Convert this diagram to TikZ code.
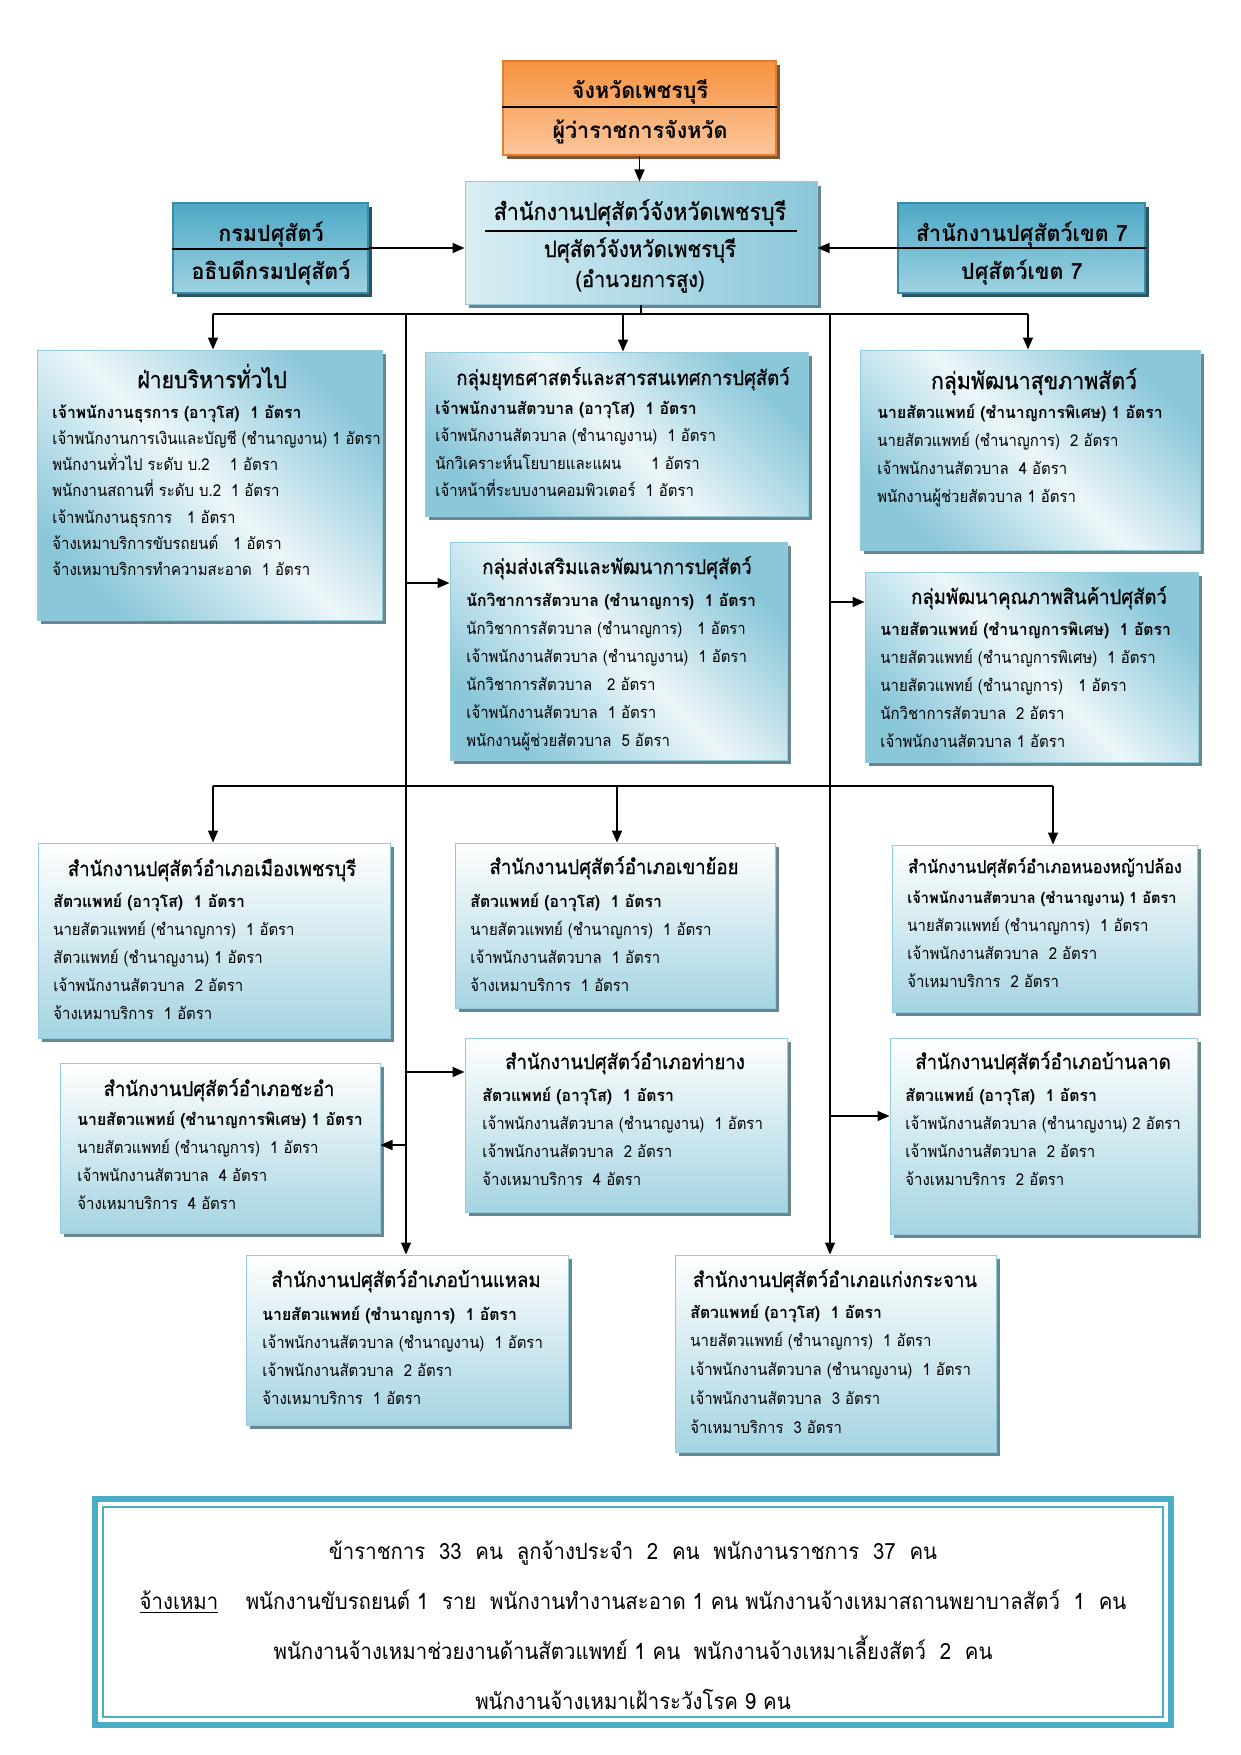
\documentclass[tikz,border=0pt]{standalone}
\usepackage{fontspec}
\setmainfont{Loma}[Script=Thai,UprightFeatures={FakeStretch=0.91},BoldFeatures={FakeStretch=0.96}]
\newfontfamily\ttlf{Loma}[Script=Thai,FakeStretch=0.91,FakeBold=0.7]
\usetikzlibrary{arrows.meta,shadows,fit}
\definecolor{orA}{RGB}{246,146,64}
\definecolor{orB}{RGB}{251,198,156}
\definecolor{orD}{RGB}{226,124,48}
\definecolor{orS}{RGB}{130,85,50}
\definecolor{tlA}{RGB}{78,168,198}
\definecolor{tlB}{RGB}{158,210,225}
\definecolor{tlD}{RGB}{56,140,170}
\definecolor{tlS}{RGB}{40,85,100}
\definecolor{bluA}{RGB}{138,199,217}
\definecolor{bluL}{RGB}{236,246,249}
\definecolor{cenL}{RGB}{216,238,244}
\definecolor{offB}{RGB}{165,212,226}
\definecolor{bdr}{RGB}{145,203,220}
\definecolor{shd}{RGB}{105,135,145}
\definecolor{sumC}{RGB}{75,172,198}
\newcommand\lns[2]{{\fontsize{8.2pt}{#1}\selectfont\begin{tabular}[t]{@{}l@{}}#2\end{tabular}}}
\tikzset{
 ln/.style={line width=0.75pt},
 arr/.style={line width=0.75pt,-{Triangle[length=6pt,width=5pt]}},
 bx/.style={draw=bdr,line width=0.5pt,inner sep=0pt,general shadow={fill=shd,shadow xshift=2pt,shadow yshift=-2pt}},
 grp/.style={bx,top color=bluA,bottom color=bluA,middle color=bluL,shading angle=-45},
 off/.style={bx,top color=white,bottom color=offB},
 ttl/.style={anchor=base,inner sep=0pt,font=\ttlf\fontsize{10.2pt}{12pt}\selectfont},
 ttlL/.style={anchor=base,inner sep=0pt,font=\ttlf\fontsize{11.7pt}{13pt}\selectfont},
 ottl/.style={anchor=base,inner sep=0pt,font=\ttlf\fontsize{10.2pt}{12pt}\selectfont},
 txt/.style={anchor=base west,inner sep=0pt},
 tl/.style={draw=tlD,line width=0.6pt,inner sep=0pt,top color=tlA,bottom color=tlB,general shadow={fill=tlS,shadow xshift=2pt,shadow yshift=-2pt}},
 bt/.style={anchor=base,inner sep=0pt,font=\fontsize{11.2pt}{13pt}\selectfont\bfseries},
}
\begin{document}
\begin{tikzpicture}[x=0.5pt,y=-0.5pt]
\useasboundingbox (0,0) rectangle (1241,1755);
\fill[white] (0,0) rectangle (1241,1755);

% top boxes
\node[fit={(503,61)(776,155)},draw=orD,line width=0.6pt,inner sep=0pt,top color=orA,bottom color=orB,general shadow={fill=orS,shadow xshift=2pt,shadow yshift=-2pt}] (gov) {};
\draw[ln] (gov.west |- 0,107) -- (gov.east |- 0,107);
\node[bt] (govA) at (640,99) {จังหวัดเพชรบุรี};
\node[bt] (govB) at (640,139) {ผู้ว่าราชการจังหวัด};

\node[fit={(465,182)(817,304)},bx,left color=cenL,right color=bluA] (ctr) {};
\node[anchor=base,inner sep=0pt,font=\ttlf\fontsize{11.8pt}{14pt}\selectfont] (ctrA) at (640,220) {สำนักงานปศุสัตว์จังหวัดเพชรบุรี};
\draw[ln] (485,231) -- (797,231);
\node[anchor=base,inner sep=0pt,font=\ttlf\fontsize{11.2pt}{13pt}\selectfont] (ctrB) at (640,257) {ปศุสัตว์จังหวัดเพชรบุรี};
\node[anchor=base,inner sep=0pt,font=\ttlf\fontsize{11pt}{13pt}\selectfont] (ctrC) at (640,287) {(อำนวยการสูง)};

\node[fit={(173,203)(368,293)},tl] (dep) {};
\draw[ln] (dep.west |- 0,249) -- (dep.east |- 0,249);
\node[bt] (depA) at (271,242) {กรมปศุสัตว์};
\node[bt] (depB) at (271,279) {อธิบดีกรมปศุสัตว์};

\node[fit={(898,203)(1145,293)},tl] (reg) {};
\draw[ln] (reg.west |- 0,248) -- (reg.east |- 0,248);
\node[bt] (regA) at (1022,242) {สำนักงานปศุสัตว์เขต 7};
\node[bt] (regB) at (1022,279) {ปศุสัตว์เขต 7};

\draw[arr] (gov.south) -- (gov.south |- ctr.north);
\draw[arr] (dep.east) -- (dep.east -| ctr.west);
\draw[arr] (reg.west) -- (reg.west -| ctr.east);

% group boxes
\node[fit={(37,350)(382,620)},grp] (g1) {};
\node[ttlL] (g1t) at (212,388) {ฝ่ายบริหารทั่วไป};
\node[txt] (g1b) at (52,418) {\lns{13.15pt}{\textbf{เจ้าพนักงานธุรการ (อาวุโส)~~1 อัตรา}\\
เจ้าพนักงานการเงินและบัญชี (ชำนาญงาน) 1 อัตรา\\
พนักงานทั่วไป ระดับ บ.2~~~~1 อัตรา\\
พนักงานสถานที่ ระดับ บ.2~~1 อัตรา\\
เจ้าพนักงานธุรการ~~~1 อัตรา\\
จ้างเหมาบริการขับรถยนต์~~~1 อัตรา\\
จ้างเหมาบริการทำความสะอาด~~1 อัตรา}};

\node[fit={(425,352)(808,516)},grp] (g2) {};
\node[ttl] (g2t) at (623,385) {กลุ่มยุทธศาสตร์และสารสนเทศการปศุสัตว์};
\node[txt] (g2b) at (435,414) {\lns{13.8pt}{\textbf{เจ้าพนักงานสัตวบาล (อาวุโส)~~1 อัตรา}\\
เจ้าพนักงานสัตวบาล (ชำนาญงาน)~~1 อัตรา\\
นักวิเคราะห์นโยบายและแผน~~~~~~1 อัตรา\\
เจ้าหน้าที่ระบบงานคอมพิวเตอร์~~1 อัตรา}};

\node[fit={(860,350)(1200,550)},grp] (g3) {};
\node[ttlL] (g3t) at (1034,389) {กลุ่มพัฒนาสุขภาพสัตว์};
\node[txt] (g3b) at (877,418) {\lns{14pt}{\textbf{นายสัตวแพทย์ (ชำนาญการพิเศษ) 1 อัตรา}\\
นายสัตวแพทย์ (ชำนาญการ)~~2 อัตรา\\
เจ้าพนักงานสัตวบาล~~4 อัตรา\\
พนักงานผู้ช่วยสัตวบาล 1 อัตรา}};

\node[fit={(450,542)(787,760)},grp] (g4) {};
\node[ttl] (g4t) at (617,574) {กลุ่มส่งเสริมและพัฒนาการปศุสัตว์};
\node[txt] (g4b) at (466,606) {\lns{14pt}{\textbf{นักวิชาการสัตวบาล (ชำนาญการ)~~1 อัตรา}\\
นักวิชาการสัตวบาล (ชำนาญการ)~~~1 อัตรา\\
เจ้าพนักงานสัตวบาล (ชำนาญงาน)~~1 อัตรา\\
นักวิชาการสัตวบาล~~~2 อัตรา\\
เจ้าพนักงานสัตวบาล~~1 อัตรา\\
พนักงานผู้ช่วยสัตวบาล~~5 อัตรา}};

\node[fit={(865,572)(1198,762)},grp] (g5) {};
\node[ttl] (g5t) at (1039,604) {กลุ่มพัฒนาคุณภาพสินค้าปศุสัตว์};
\node[txt] (g5b) at (880,635) {\lns{14pt}{\textbf{นายสัตวแพทย์ (ชำนาญการพิเศษ)~~1 อัตรา}\\
นายสัตวแพทย์ (ชำนาญการพิเศษ)~~1 อัตรา\\
นายสัตวแพทย์ (ชำนาญการ)~~~1 อัตรา\\
นักวิชาการสัตวบาล~~2 อัตรา\\
เจ้าพนักงานสัตวบาล 1 อัตรา}};

% office boxes
\node[fit={(38,843)(390,1038)},off] (o6) {};
\node[ottl] (o6t) at (212,876) {สำนักงานปศุสัตว์อำเภอเมืองเพชรบุรี};
\node[txt] (o6b) at (53,907) {\lns{14pt}{\textbf{สัตวแพทย์ (อาวุโส)~~1 อัตรา}\\
นายสัตวแพทย์ (ชำนาญการ)~~1 อัตรา\\
สัตวแพทย์ (ชำนาญงาน) 1 อัตรา\\
เจ้าพนักงานสัตวบาล~~2 อัตรา\\
จ้างเหมาบริการ~~1 อัตรา}};

\node[fit={(455,843)(775,1008)},off] (o7) {};
\node[ottl] (o7t) at (614,874) {สำนักงานปศุสัตว์อำเภอเขาย้อย};
\node[txt] (o7b) at (470,907) {\lns{14pt}{\textbf{สัตวแพทย์ (อาวุโส)~~1 อัตรา}\\
นายสัตวแพทย์ (ชำนาญการ)~~1 อัตรา\\
เจ้าพนักงานสัตวบาล~~1 อัตรา\\
จ้างเหมาบริการ~~1 อัตรา}};

\node[fit={(892,845)(1197,1012)},off] (o8) {};
\node[anchor=base,inner sep=0pt,font=\ttlf\fontsize{8.9pt}{11pt}\selectfont] (o8t) at (1045,873) {สำนักงานปศุสัตว์อำเภอหนองหญ้าปล้อง};
\node[txt] (o8b) at (907,903) {\lns{14.1pt}{{\fontsize{7.6pt}{14.1pt}\selectfont\textbf{เจ้าพนักงานสัตวบาล (ชำนาญงาน) 1 อัตรา}}\\
นายสัตวแพทย์ (ชำนาญการ)~~1 อัตรา\\
เจ้าพนักงานสัตวบาล~~2 อัตรา\\
จ้าเหมาบริการ~~2 อัตรา}};

\node[fit={(60,1063)(380,1233)},off] (o9) {};
\node[ottl] (o9t) at (219,1096) {สำนักงานปศุสัตว์อำเภอชะอำ};
\node[txt] (o9b) at (77,1125) {\lns{14.1pt}{\textbf{นายสัตวแพทย์ (ชำนาญการพิเศษ) 1 อัตรา}\\
นายสัตวแพทย์ (ชำนาญการ)~~1 อัตรา\\
เจ้าพนักงานสัตวบาล~~4 อัตรา\\
จ้างเหมาบริการ~~4 อัตรา}};

\node[fit={(465,1038)(787,1212)},off] (o10) {};
\node[ottl] (o10t) at (625,1069) {สำนักงานปศุสัตว์อำเภอท่ายาง};
\node[txt] (o10b) at (482,1101) {\lns{14pt}{\textbf{สัตวแพทย์ (อาวุโส)~~1 อัตรา}\\
เจ้าพนักงานสัตวบาล (ชำนาญงาน)~~1 อัตรา\\
เจ้าพนักงานสัตวบาล~~2 อัตรา\\
จ้างเหมาบริการ~~4 อัตรา}};

\node[fit={(890,1038)(1197,1234)},off] (o11) {};
\node[ottl] (o11t) at (1043,1069) {สำนักงานปศุสัตว์อำเภอบ้านลาด};
\node[txt] (o11b) at (905,1101) {\lns{14pt}{\textbf{สัตวแพทย์ (อาวุโส)~~1 อัตรา}\\
เจ้าพนักงานสัตวบาล (ชำนาญงาน) 2 อัตรา\\
เจ้าพนักงานสัตวบาล~~2 อัตรา\\
จ้างเหมาบริการ~~2 อัตรา}};

\node[fit={(246,1255)(568,1425)},off] (o12) {};
\node[ottl] (o12t) at (406,1287) {สำนักงานปศุสัตว์อำเภอบ้านแหลม};
\node[txt] (o12b) at (262,1320) {\lns{14pt}{\textbf{นายสัตวแพทย์ (ชำนาญการ)~~1 อัตรา}\\
เจ้าพนักงานสัตวบาล (ชำนาญงาน)~~1 อัตรา\\
เจ้าพนักงานสัตวบาล~~2 อัตรา\\
จ้างเหมาบริการ~~1 อัตรา}};

\node[fit={(675,1255)(996,1452)},off] (o13) {};
\node[ottl] (o13t) at (835,1287) {สำนักงานปศุสัตว์อำเภอแก่งกระจาน};
\node[txt] (o13b) at (690,1318) {\lns{14.4pt}{\textbf{สัตวแพทย์ (อาวุโส)~~1 อัตรา}\\
นายสัตวแพทย์ (ชำนาญการ)~~1 อัตรา\\
เจ้าพนักงานสัตวบาล (ชำนาญงาน)~~1 อัตรา\\
เจ้าพนักงานสัตวบาล~~3 อัตรา\\
จ้าเหมาบริการ~~3 อัตรา}};

% connectors
\coordinate (j0) at (641,314);
\coordinate (jA) at (213,314);
\coordinate (jB) at (623,314);
\coordinate (jC) at (1028,314);
\coordinate (vL) at (406,314);
\coordinate (vR) at (830,314);
\draw[ln] (ctr.south) -- (j0);
\draw[ln] (jA) -- (jC);
\draw[arr] (jA) -- (jA |- g1.north);
\draw[arr] (jB) -- (jB |- g2.north);
\draw[arr] (jC) -- (jC |- g3.north);
\draw[arr] (vL) -- (vL |- o12.north);
\draw[arr] (vR) -- (vR |- o13.north);
\coordinate (hL1) at (406,583);
\coordinate (hR1) at (830,602);
\coordinate (hL2) at (406,1072);
\coordinate (hL3) at (406,1145);
\coordinate (hR2) at (830,1116);
\draw[arr] (hL1) -- (hL1 -| g4.west);
\draw[arr] (hR1) -- (hR1 -| g5.west);
\draw[arr] (hL2) -- (hL2 -| o10.west);
\draw[arr] (hL3) -- (hL3 -| o9.east);
\draw[arr] (hR2) -- (hR2 -| o11.west);
\coordinate (kA) at (213,786);
\coordinate (kB) at (617,786);
\coordinate (kC) at (1053,786);
\draw[ln] (kA) -- (kC);
\draw[arr] (kA) -- (kA |- o6.north);
\draw[arr] (kB) -- (kB |- o7.north);
\draw[arr] (kC) -- (kC |- o8.north);

% summary
\node[fit={(95,1499)(1171,1725)},draw=sumC,line width=3pt,inner sep=0pt] (sum) {};
\draw[sumC,line width=1pt] (103,1507) rectangle (1163,1717);
\node[anchor=center,align=center,inner sep=0pt,font=\fontsize{11.2pt}{25pt}\selectfont] (sumT) at (633,1625) {ข้าราชการ~~33~~คน~~ลูกจ้างประจำ~~2~~คน~~พนักงานราชการ~~37~~คน\\
\underline{จ้างเหมา}~~~~พนักงานขับรถยนต์ 1~~ราย~~พนักงานทำงานสะอาด 1 คน พนักงานจ้างเหมาสถานพยาบาลสัตว์~~1~~คน\\
พนักงานจ้างเหมาช่วยงานด้านสัตวแพทย์ 1 คน~~พนักงานจ้างเหมาเลี้ยงสัตว์~~2~~คน\\
พนักงานจ้างเหมาเฝ้าระวังโรค 9 คน};
\end{tikzpicture}
\end{document}
